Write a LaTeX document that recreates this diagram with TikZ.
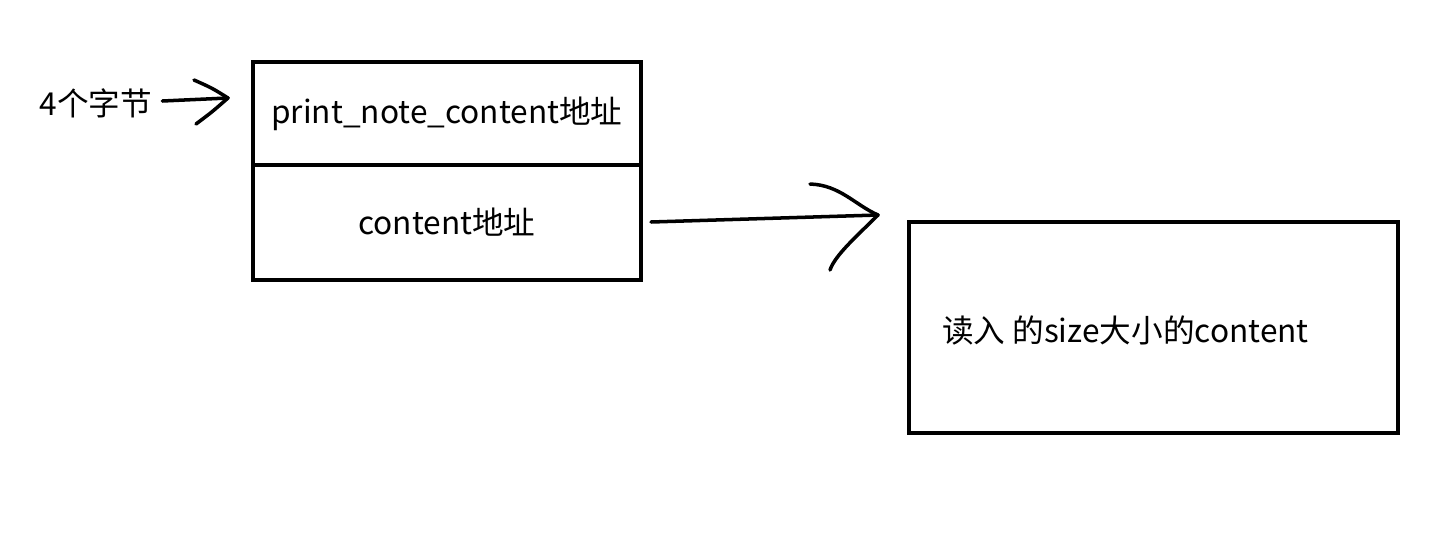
\documentclass[tikz,border=0pt]{standalone}
\usepackage{fontspec}
\setmainfont{Noto Sans CJK SC}
\begin{document}
\begin{tikzpicture}[x=0.02cm,y=-0.02cm,
		cell/.style={draw, line width=2.2pt, minimum width=7.76cm, inner sep=0pt},
		lbl/.style={font=\fontsize{18}{21}\selectfont},
		pen/.style={line width=2pt, line cap=round, line join=round}]
	\useasboundingbox (0,0) rectangle (1439,538);
	\node[cell, minimum height=2.06cm, anchor=north west, lbl] (top) at (251,60) {print\_note\_content地址};
	\node[cell, minimum height=2.3cm, anchor=north west, lbl] (bot) at (251,163) {content地址};
	\node[lbl] (bytes) at (96,103) {4个字节};
	\node[draw, line width=2.2pt, minimum width=9.78cm, minimum height=4.22cm, anchor=north west] (buf) at (907,220) {};
	\node[lbl, anchor=west] (read) at (936,330) {读入 的size大小的content};
	% hand drawn arrows
	\coordinate (tipA) at (228,98);
	\coordinate (tipB) at (878,215);
	\draw[pen] (bytes.east) ++(4,-2) -- (tipA);
	\draw[pen] (194,80) .. controls (212,88) .. (tipA) .. controls (212,112) .. (196,124);
	\draw[pen] (651,222) -- (tipB);
	\draw[pen] (810,184) .. controls (840,185) and (855,205) .. (tipB) .. controls (858,235) and (835,255) .. (830,270);
\end{tikzpicture}
\end{document}
